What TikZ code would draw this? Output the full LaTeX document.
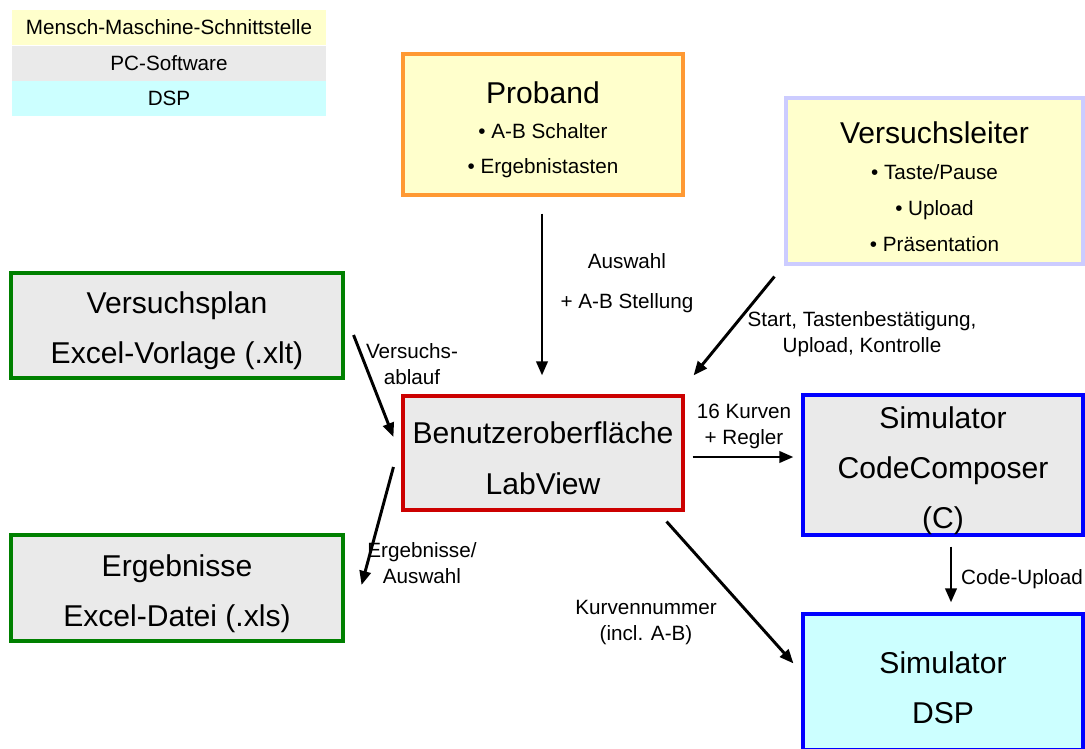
\documentclass[tikz,border=0pt]{standalone}
\usepackage{fontspec}
\setmainfont{Liberation Sans}
\usetikzlibrary{arrows.meta,positioning,calc}
\definecolor{hmiyellow}{RGB}{255,255,204}
\definecolor{pcgray}{RGB}{234,234,234}
\definecolor{dspcyan}{RGB}{204,255,255}
\definecolor{probandorange}{RGB}{255,153,51}
\definecolor{leiterlilac}{RGB}{204,204,255}
\definecolor{plangreen}{RGB}{0,128,0}
\definecolor{guired}{RGB}{204,0,0}
\definecolor{simblue}{RGB}{0,0,255}
\newcommand{\bigtxt}{\fontsize{21.4}{35.6}\selectfont}
\newcommand{\smalltxt}{\fontsize{14.7}{18.5}\selectfont}
\newcommand{\topgap}{\rule{0pt}{23pt}}
\tikzset{
  legendband/.style={fill=#1,minimum width=314*0.025cm,minimum height=35*0.025cm,
    inner sep=0pt,font=\smalltxt},
  blockbox/.style 2 args={draw,line width=2.2pt,minimum width=#1*0.025cm,
    minimum height=#2*0.025cm,inner sep=0pt,align=center,font=\bigtxt},
  flowarrow/.style={-{Triangle[length=10pt,width=8pt]},line width=2.1pt},
  lbl/.style={align=center,inner sep=0pt,font=\smalltxt},
}

\begin{document}
\begin{tikzpicture}[x=0.025cm,y=-0.025cm]
  \clip (0,0) rectangle (1085,749);
  % legend
  \node[legendband=hmiyellow] (lgmmi) at (169,27.5) {Mensch-Maschine-Schnittstelle};
  \node[legendband=pcgray,below=0pt of lgmmi] (lgpc) {PC-Software};
  \node[legendband=dspcyan,below=0pt of lgpc] (lgdsp) {DSP};
  % blocks
  \node[blockbox={280}{141},fill=hmiyellow,draw=probandorange,
    font=\fontsize{14.7}{24.9}\selectfont] (proband) at (543,124.5)
    {\topgap{\bigtxt Proband}\\• A-B Schalter\\• Ergebnistasten};
  \node[blockbox={297}{166},fill=hmiyellow,draw=leiterlilac,
    font=\fontsize{14.7}{25.6}\selectfont] (leiter) at (934.5,181)
    {\topgap{\bigtxt Versuchsleiter}\\• Taste/Pause\\• Upload\\• Präsentation};
  \node[blockbox={332}{105},fill=pcgray,draw=plangreen] (plan) at (177,325.5)
    {\topgap Versuchsplan\\Excel-Vorlage (.xlt)};
  \node[blockbox={332}{106},fill=pcgray,draw=plangreen] (results) at (177,588)
    {\topgap Ergebnisse\\Excel-Datei (.xls)};
  \node[blockbox={280}{114},fill=pcgray,draw=guired] (gui) at (543,453)
    {\topgap Benutzeroberfläche\\LabView};
  \node[blockbox={280}{140},fill=pcgray,draw=simblue] (ccs) at (943,465)
    {\topgap Simulator\\CodeComposer\\(C)};
  \node[blockbox={280}{136},fill=dspcyan,draw=simblue] (dsp) at (943,682)
    {\topgap Simulator\\DSP};
  % connectors
  \draw[flowarrow] ($(proband.south)+(-1,17)$) -- ($(gui.north)+(-1,-19)$);
  \draw[flowarrow] ($(leiter.south west)+(-10,11)$) -- ($(gui.north east)+(9,-19)$);
  \draw[flowarrow] ($(plan.east)+(9,9.5)$) -- ($(gui.west)+(-8,-16)$);
  \draw[flowarrow] ($(gui.west)+(-8,14)$) -- ($(results.east)+(17,-3)$);
  \draw[flowarrow] ($(gui.east)+(8,4)$) -- ($(ccs.west)+(-8,-8)$);
  \draw[flowarrow] ($(gui.south east)+(-18,10)$) -- ($(dsp.north west)+(-8,51)$);
  \draw[flowarrow] ($(ccs.south)+(8,10)$) -- ($(dsp.north)+(8,-10)$);
  % labels
  \node[lbl] (lblauswahl) at (627,283) {Auswahl\\[10pt]+ A-B Stellung};
  \node[lbl] (lblstart) at (862,334.5) {Start, Tastenbestätigung,\\Upload, Kontrolle};
  \node[lbl] (lblablauf) at (412,364.5) {Versuchs-\\ablauf};
  \node[lbl] (lblkurven) at (744,426.5) {16 Kurven\\+ Regler};
  \node[lbl] (lblergebnis) at (422,563) {Ergebnisse/\\Auswahl};
  \node[lbl] (lblnummer) at (646,622.5) {Kurvennummer\\(incl. A-B)};
  \node[lbl] (lblupload) at (1022,579) {Code-Upload};
\end{tikzpicture}
\end{document}
